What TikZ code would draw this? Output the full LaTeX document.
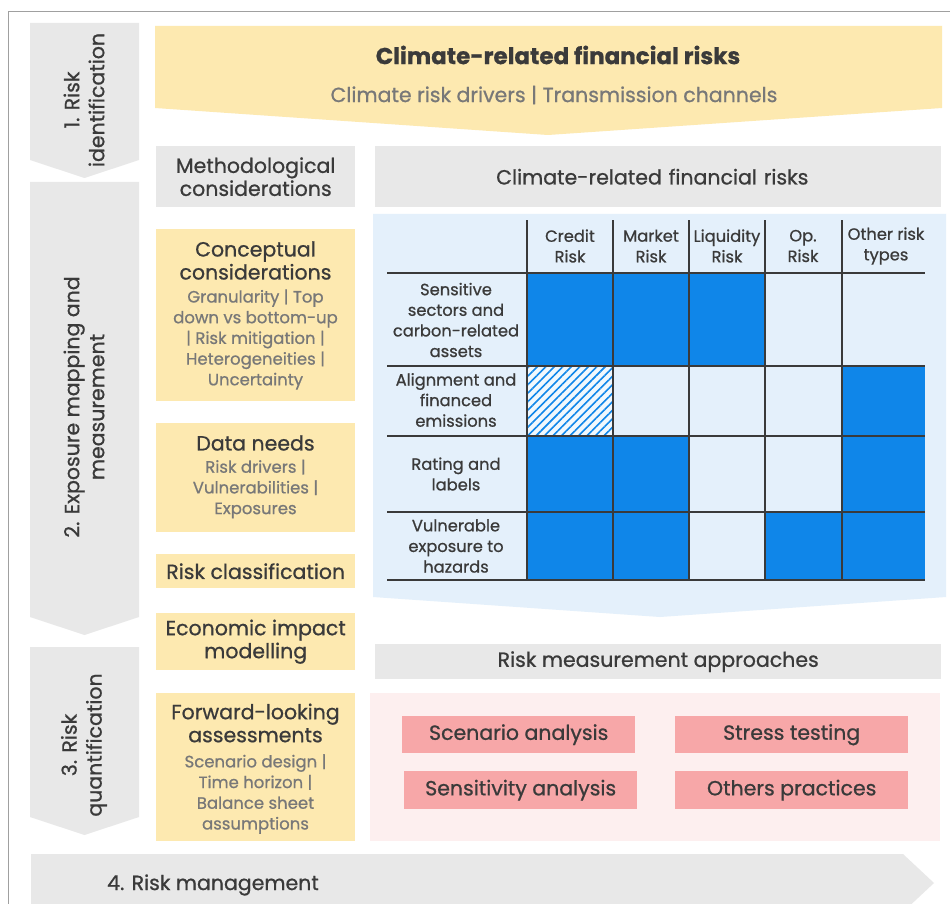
\documentclass[tikz,border=0pt]{standalone}
\usepackage{fontspec}
\setmainfont{Poppins}[FakeBold=0.8]
\usetikzlibrary{patterns.meta}
\definecolor{txt}{HTML}{3A3A3A}
\definecolor{subc}{HTML}{787878}
\definecolor{greyb}{HTML}{E8E8E8}
\definecolor{yel}{HTML}{FDE9B0}
\definecolor{lblue}{HTML}{E4F0FB}
\definecolor{cellblue}{HTML}{0F86E9}
\definecolor{pinkbg}{HTML}{FDEFEF}
\definecolor{pinkbox}{HTML}{F7A7A8}
\definecolor{framec}{HTML}{A0A0A0}
\definecolor{gridc}{HTML}{3A3A3A}
\newcommand\fsA{\fontsize{20.5}{23}\selectfont}
\newcommand\fsB{\fontsize{16.5}{20.7}\selectfont}
\newcommand\fsT{\fontsize{16.3}{20.6}\selectfont}
\begin{document}
\begin{tikzpicture}[x=1pt,y=-1pt,
  boxb/.style={inner sep=0pt, anchor=north west, align=center, text=txt},
  gbox/.style={boxb, fill=greyb, font=\fsA},
  ybox/.style={boxb, fill=yel, font=\fsA},
  pbox/.style={boxb, fill=pinkbox, font=\fsA},
  ttl/.style={inner sep=0pt, align=center, text=txt, font=\fsA},
  subt/.style={inner sep=0pt, align=center, text=subc, font=\fsB},
  tlab/.style={inner sep=0pt, align=center, text=txt, font=\fsT},
  grid/.style={draw=gridc, line width=1.3pt},
  arr/.style={fill=greyb},
  arrtxt/.style={rotate=90, inner sep=0pt, align=center, text=txt, font=\fontsize{20.5}{25}\selectfont}
]
\useasboundingbox (0,0) rectangle (950,904);
\fill[white] (0,0) rectangle (950,904);
% frame
\draw[framec, line width=1pt] (8,904) -- (8,12) -- (950,12);
% left arrows
\fill[arr] (30,23) -- (139,23) -- (139,160) -- (84.5,178) -- (30,160) -- cycle;
\fill[arr] (30,182) -- (139,182) -- (139,617) -- (84.5,635) -- (30,617) -- cycle;
\fill[arr] (30,647) -- (139,647) -- (139,817) -- (84.5,835) -- (30,817) -- cycle;
\fill[arr] (31,854) -- (903,854) -- (934,883) -- (903,912) -- (31,912) -- cycle;
\node[arrtxt] (a1) at (84,100) {1. Risk\\identification};
\node[arrtxt] (a2) at (84,407) {2. Exposure mapping and\\measurement};
\node[arrtxt] (a3) at (84,745) {3. Risk\\quantification};
\node[ttl, anchor=center] (a4) at (213,885) {4. Risk management};
% top banner
\fill[yel] (155,26) -- (942,26) -- (942,108) -- (548,135) -- (155,108) -- cycle;
\node[ttl, font=\bfseries\fontsize{23}{28}\selectfont] (title) at (558,55) {Climate-related financial risks};
\node[subt, font=\fontsize{20.5}{23}\selectfont] (subtitle) at (554,95) {Climate risk drivers | Transmission channels};
% grey headers
\node[gbox, minimum width=199pt, minimum height=61pt] (meth) at (156,146) {Methodological\\considerations};
\node[gbox, minimum width=566pt, minimum height=61pt, text width=552pt, align=left] (cfr) at (375,146) {\hspace*{114pt}Climate-related financial risks};
% table background
\fill[lblue] (373,214) -- (946,214) -- (946,597) -- (660,617) -- (373,597) -- cycle;
% cells
\fill[cellblue] (527,273) rectangle (765,366);
\fill[cellblue] (842,366) rectangle (925,580);
\fill[cellblue] (527,436) rectangle (689,580);
\fill[cellblue] (765,512) rectangle (842,580);
\fill[white!50!lblue] (527,366) rectangle (613,436);
\fill[pattern={Lines[angle=45,distance=6pt,line width=1.6pt]}, pattern color=cellblue] (527,366) rectangle (613,436);
% grid
\foreach \yy in {273,366,436,512,580} \draw[grid] (387,\yy) -- (925,\yy);
\foreach \xx in {527,613,689,765,842} \draw[grid] (\xx,220) -- (\xx,580);
% header labels
\node[tlab] (h1) at (570,246) {Credit\\Risk};
\node[tlab] (h2) at (651,246) {Market\\Risk};
\node[tlab] (h3) at (727,246) {Liquidity\\Risk};
\node[tlab] (h4) at (803,246) {Op.\\Risk};
\node[tlab] (h5) at (886,246) {Other risk\\types};
% row labels
\node[tlab] (r1) at (456,320) {Sensitive\\sectors and\\carbon-related\\assets};
\node[tlab] (r2) at (456,400) {Alignment and\\financed\\emissions};
\node[tlab] (r3) at (456,474) {Rating and\\labels};
\node[tlab] (r4) at (456,546) {Vulnerable\\exposure to\\hazards};
% left yellow boxes
\node[ybox, minimum width=199pt, minimum height=172pt] (concept) at (156,229) {};
\node[ttl] (conceptT) at (255.5,260.5) {Conceptual\\considerations};
\node[subt] (conceptS) at (255.5,339.5) {Granularity | Top\\down vs bottom-up\\| Risk mitigation |\\Heterogeneities |\\Uncertainty};
\node[ybox, minimum width=199pt, minimum height=109pt] (data) at (156,423) {};
\node[ttl] (dataT) at (255.5,443) {Data needs};
\node[subt] (dataS) at (255.5,489) {Risk drivers |\\Vulnerabilities |\\Exposures};
\node[ybox, minimum width=199pt, minimum height=34pt] (rclass) at (156,554) {Risk classification};
\node[ybox, minimum width=199pt, minimum height=57pt] (econ) at (156,613) {Economic impact\\modelling};
\node[ybox, minimum width=199pt, minimum height=148pt] (fwd) at (156,693) {};
\node[ttl] (fwdT) at (255.5,723) {Forward-looking\\assessments};
\node[subt] (fwdS) at (255.5,794) {Scenario design |\\Time horizon |\\Balance sheet\\assumptions};
% risk measurement
\node[gbox, minimum width=566pt, minimum height=35pt] (rma) at (375,644) {Risk measurement approaches};
\fill[pinkbg] (370,693) rectangle (940,841);
\node[pbox, minimum width=233pt, minimum height=37pt] (scen) at (402,716) {Scenario analysis};
\node[pbox, minimum width=233pt, minimum height=38pt] (sens) at (404,771) {Sensitivity analysis};
\node[pbox, minimum width=233pt, minimum height=37pt] (stress) at (675,716) {Stress testing};
\node[pbox, minimum width=233pt, minimum height=38pt] (other) at (675,771) {Others practices};
\end{tikzpicture}
\end{document}
